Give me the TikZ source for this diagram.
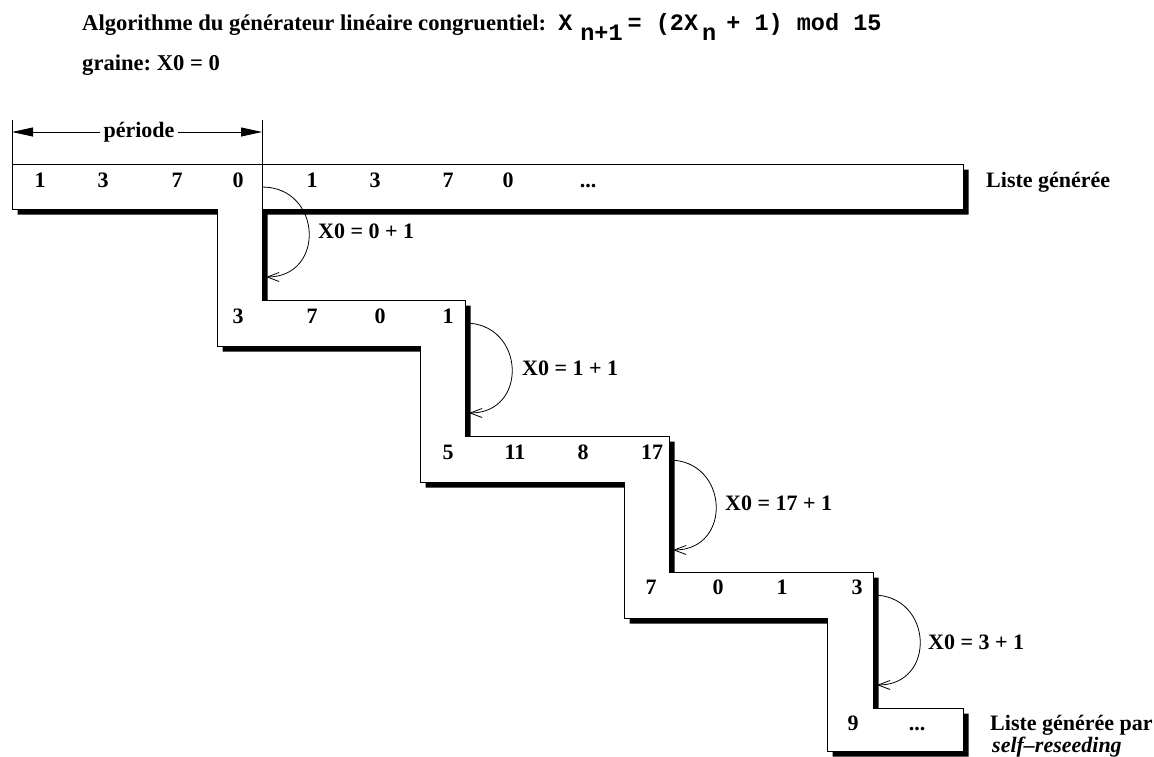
\documentclass[tikz,border=0pt]{standalone}
\usepackage{fontspec}
\setmainfont{Liberation Serif}
\setmonofont{Liberation Mono}
\usepackage{tikz}
\usetikzlibrary{arrows.meta}
\definecolor{ink}{HTML}{000000}
\newcommand{\stairs}{(12,164) -- (963,164) -- (963,209) -- (262,209) -- (262,300)
  -- (465,300) -- (465,436) -- (669,436) -- (669,572) -- (873,572) -- (873,708)
  -- (963,708) -- (963,751) -- (827,751) -- (827,618) -- (624,618) -- (624,482)
  -- (420,482) -- (420,346) -- (217,346) -- (217,209) -- (12,209) -- cycle}
\newcommand{\mono}[1]{{\fontsize{23.5}{26}\selectfont\texttt{#1}}}
\newcommand{\lowsub}[1]{\raisebox{-10pt}{\mono{#1}}}
\newcommand{\etc}{...}
\frenchspacing

\begin{document}
\begin{tikzpicture}[x=1pt,y=-1pt,
  font=\fontsize{22}{26}\selectfont\bfseries,
  num/.style={anchor=base,inner sep=0pt},
  lbl/.style={anchor=base west,inner sep=0pt},
  edge/.style={line width=0.9pt,ink},
  seed/.style={line width=0.8pt,ink,-{Straight Barb[length=12pt,width=9pt,line width=0.8pt]}},
  period/.style={line width=0.8pt,ink,-{Triangle[length=21pt,width=9pt]}}]
\useasboundingbox (0,0) rectangle (1154,756);

% title
\node[lbl,font=\fontsize{22.6}{26}\selectfont\bfseries] (algo) at (82,30) {Algorithme du générateur linéaire congruentiel:\hspace{12pt}\mono{X}\hspace{8pt}\lowsub{n+1}\hspace{5pt}\mono{= (2X}\hspace{4pt}\lowsub{n}\hspace{-4pt}\mono{ + 1) mod 15}};
\node[lbl,font=\fontsize{22.6}{26}\selectfont\bfseries] (graine) at (82,70) {graine: X0 = 0};

% staircase of lists, with shadow
\fill[ink,shift={(5.5,5.5)}] \stairs;
\filldraw[edge,fill=white] \stairs;
\draw[edge] (12,120) -- (12,164);
\draw[edge] (262,120) -- (262,300);

% period
\node (per) at (139,132) {période};
\coordinate (pl) at (12,132);
\coordinate (pr) at (262,132);
\draw[period] (per) -- (pl);
\draw[period] (per) -- (pr);

% values
\foreach \x/\t [count=\i] in {40/1,103/3,177/7,238/0,312/1,375/3,448/7,508/0,588/\etc}
  \node[num] (a\i) at (\x,187) {\t};
\foreach \x/\t [count=\i] in {238/3,312/7,380/0,448/1}
  \node[num] (b\i) at (\x,323) {\t};
\foreach \x/\t [count=\i] in {448/5,515/11,583/8,652/17}
  \node[num] (c\i) at (\x,459) {\t};
\foreach \x/\t [count=\i] in {651/7,718/0,782/1,857/3}
  \node[num] (d\i) at (\x,594) {\t};
\foreach \x/\t [count=\i] in {853/9,917/\etc}
  \node[num] (e\i) at (\x,730) {\t};

% reseeding
\coordinate (s1) at (262,187); \coordinate (t1) at (266,277);
\coordinate (s2) at (465,323); \coordinate (t2) at (469,413);
\coordinate (s3) at (669,460); \coordinate (t3) at (673,550);
\coordinate (s4) at (873,595); \coordinate (t4) at (877,685);
\draw[seed] (s1) .. controls +(60,0) and +(60,0) .. (t1);
\draw[seed] (s2) .. controls +(60,0) and +(60,0) .. (t2);
\draw[seed] (s3) .. controls +(60,0) and +(60,0) .. (t3);
\draw[seed] (s4) .. controls +(60,0) and +(60,0) .. (t4);
\node[lbl] (x1) at (318,238) {X0 = 0 + 1};
\node[lbl] (x2) at (522,375) {X0 = 1 + 1};
\node[lbl] (x3) at (725,510) {X0 = 17 + 1};
\node[lbl] (x4) at (928,649) {X0 = 3 + 1};

% list names
\node[lbl] (gen) at (986,187) {Liste générée};
\node[lbl] (selfgen) at (990,730) {Liste générée par};
\node[lbl,font=\fontsize{22}{26}\selectfont\bfseries\itshape] (self) at (992,752) {self--reseeding};
\end{tikzpicture}
\end{document}
